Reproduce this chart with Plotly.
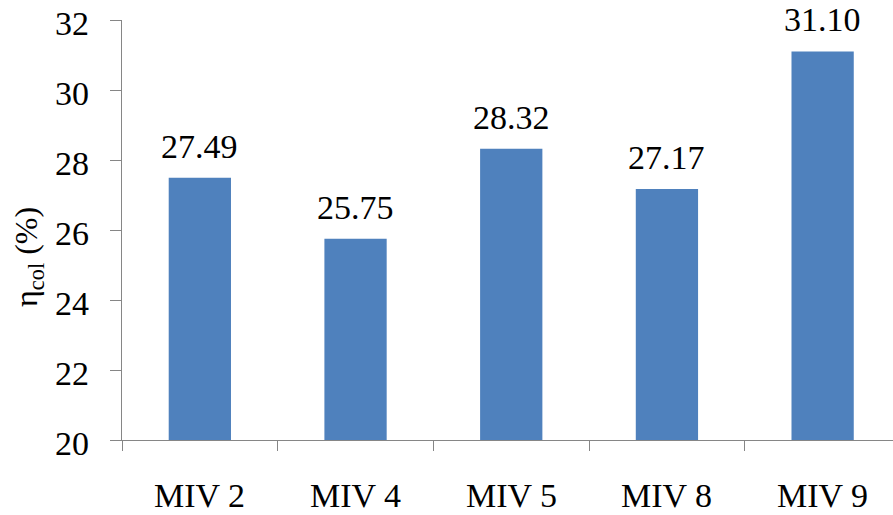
import plotly.graph_objects as go

categories = ["MIV 2", "MIV 4", "MIV 5", "MIV 8", "MIV 9"]
values = [27.49, 25.75, 28.32, 27.17, 31.10]
value_labels = ["27.49", "25.75", "28.32", "27.17", "31.10"]
y_ticks = [20, 22, 24, 26, 28, 30, 32]
y_tick_labels = ["20", "22", "24", "26", "28", "30", "32"]

FONT = "serif"
AXIS = "#868686"
BLACK = "#000000"

fig = go.Figure()
fig.add_trace(go.Bar(
    x=categories, y=values,
    marker=dict(color="#4F81BD", line=dict(width=0)),
    width=0.4,
    hoverinfo="skip",
))

for c, v, t in zip(categories, values, value_labels):
    fig.add_annotation(x=c, y=v, text=t, showarrow=False, xanchor="center",
                       yanchor="bottom", yshift=11,
                       font=dict(family=FONT, size=34, color=BLACK))

for c in categories:
    fig.add_annotation(x=c, xref="x", y=0, yref="paper", text=c, showarrow=False,
                       xanchor="center", yanchor="top", yshift=-35,
                       font=dict(family=FONT, size=34, color=BLACK))

for v, t in zip(y_ticks, y_tick_labels):
    fig.add_annotation(x=0, xref="paper", y=v, yref="y", text=t, showarrow=False,
                       xanchor="right", yanchor="middle", xshift=-31, yshift=-3,
                       font=dict(family=FONT, size=34, color=BLACK))

fig.add_annotation(xref="paper", yref="paper", x=-0.1206, y=0.436,
                   text="η<sub>col</sub> (%)", textangle=-90, showarrow=False,
                   xanchor="center", yanchor="middle",
                   font=dict(family=FONT, size=32, color=BLACK))

fig.update_layout(
    width=893, height=515,
    margin=dict(l=122, r=0, t=20, b=75),
    paper_bgcolor="white", plot_bgcolor="white",
    showlegend=False,
    font=dict(family=FONT),
    xaxis=dict(
        type="category",
        range=[-0.5, 4.452],
        automargin=False,
        showgrid=False, zeroline=False,
        showline=True, linecolor=AXIS, linewidth=1,
        ticks="outside", tickson="boundaries", ticklen=10, tickcolor=AXIS,
        showticklabels=False,
    ),
    yaxis=dict(
        range=[20, 32],
        tickvals=y_ticks,
        automargin=False,
        showgrid=False, zeroline=False,
        showline=True, linecolor=AXIS, linewidth=1,
        ticks="outside", ticklen=11, tickcolor=AXIS,
        showticklabels=False,
    ),
)

fig.write_html("out.html", config={"displayModeBar": False},
               post_script="document.body.style.margin='0';")
